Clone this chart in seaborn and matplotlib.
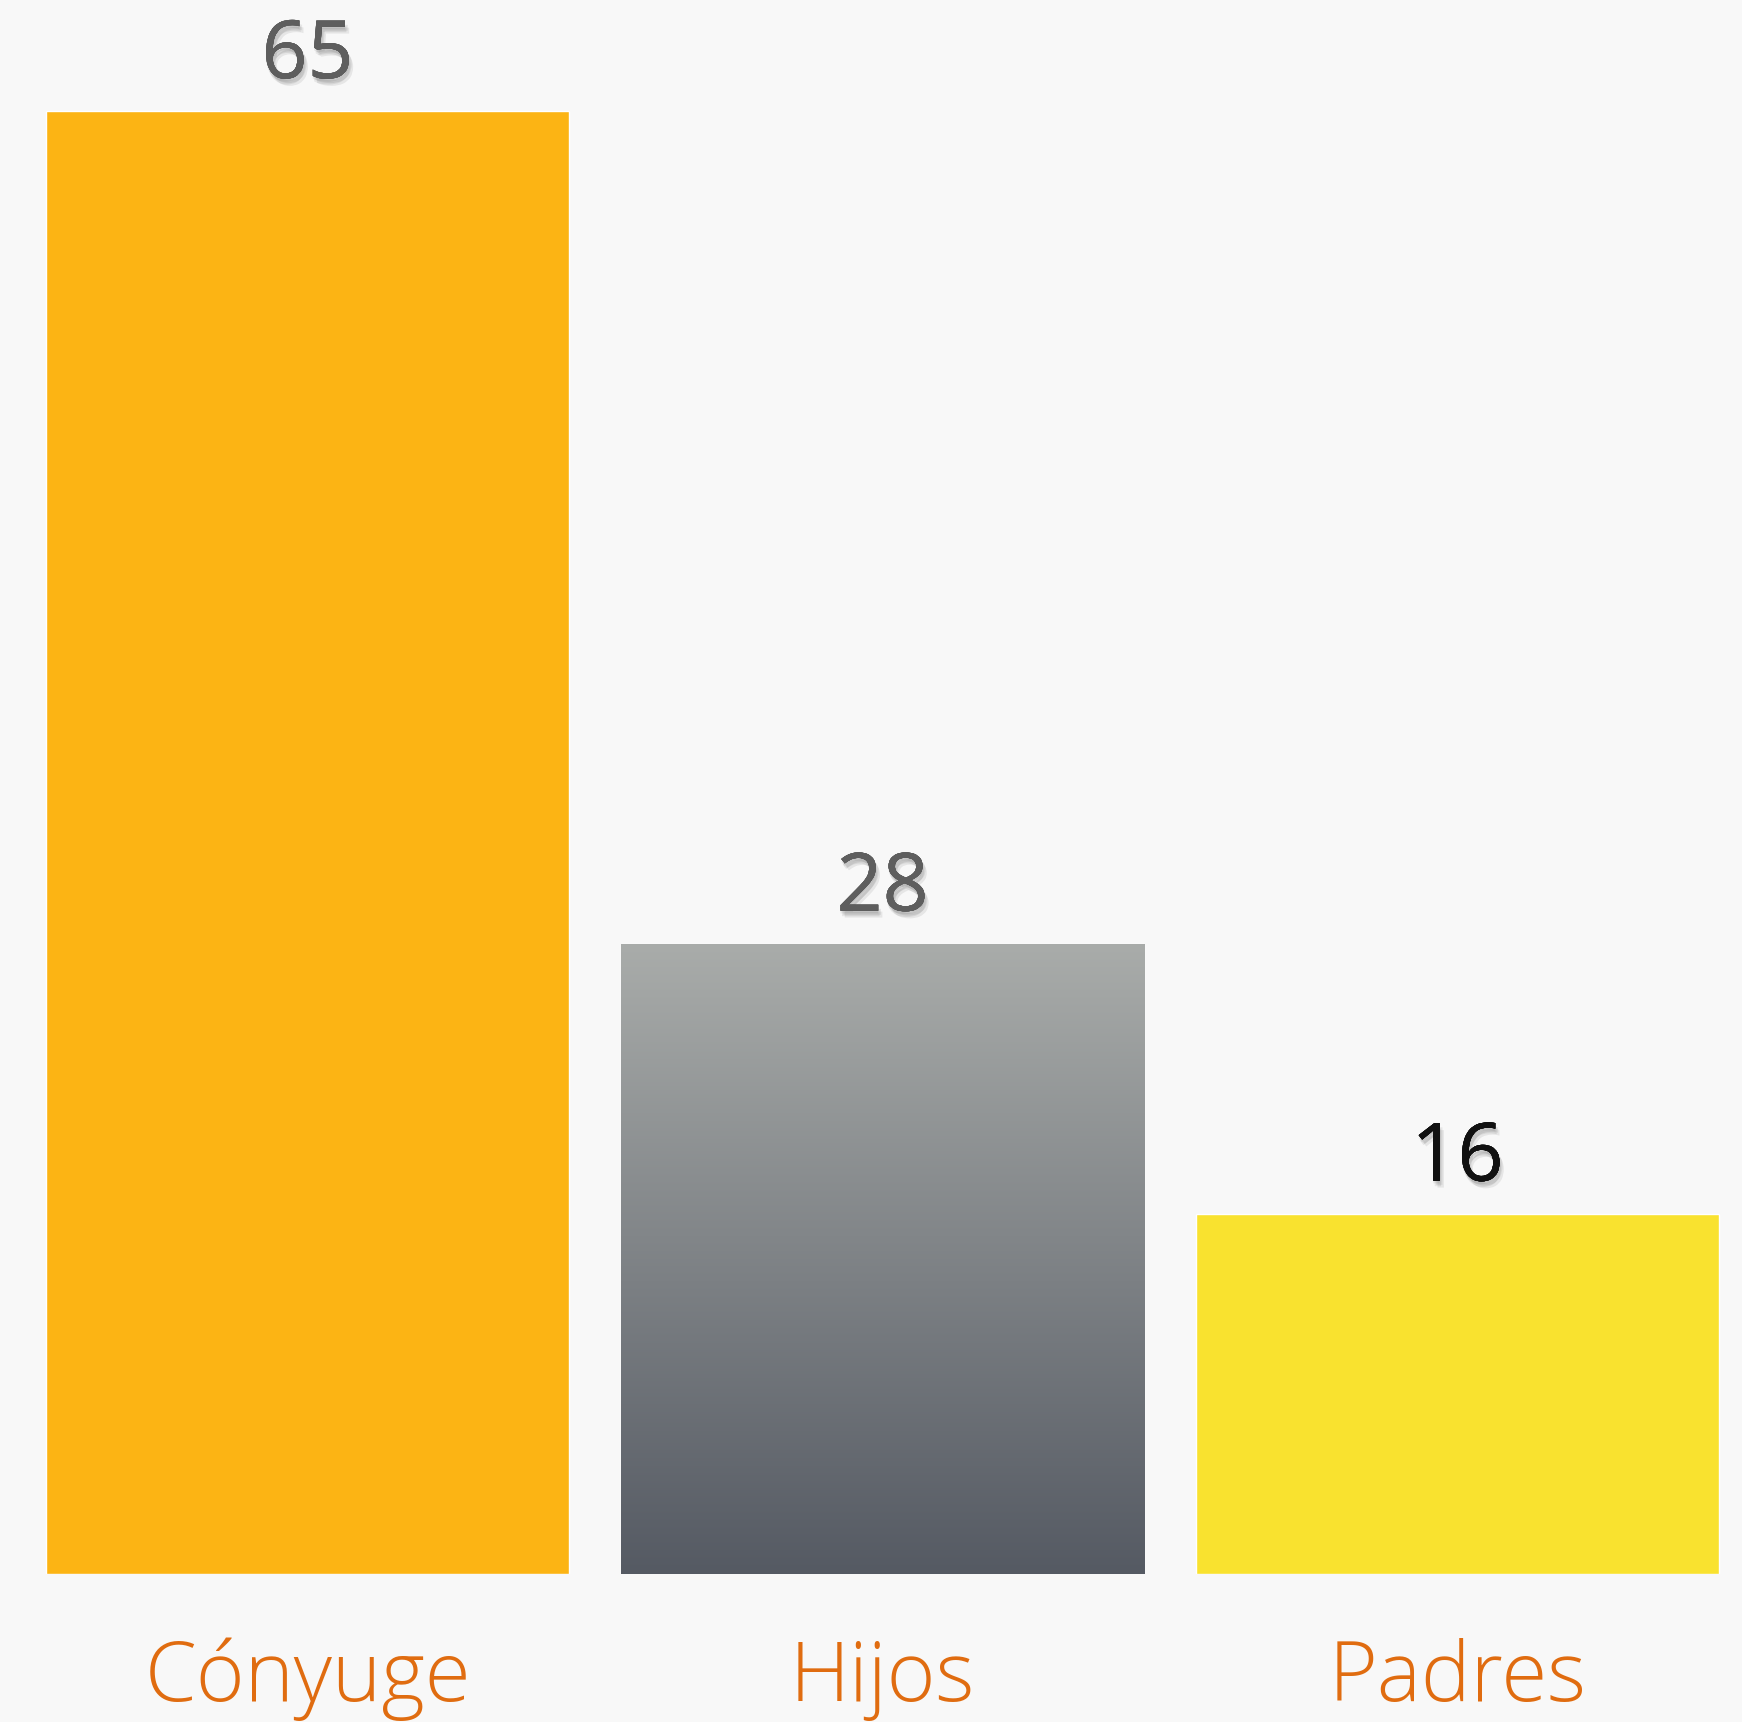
import numpy as np
import pandas as pd
import matplotlib
matplotlib.use("Agg")
import matplotlib.pyplot as plt
import matplotlib.patheffects as pe
import seaborn as sns

categorias = ["Cónyuge", "Hijos", "Padres"]
valores = [65, 28, 16]
colores = ["#FCB414", "#9A9C9C", "#F9E22F"]
colores_etiqueta = ["#5E5E5E", "#5E5E5E", "#111111"]

bg = "#F8F8F8"
sns.set_style("white")
plt.rcParams['font.family'] = ['Open Sans', 'DejaVu Sans']

df = pd.DataFrame({"categoria": categorias, "valor": valores})

fig = plt.figure(figsize=(17.42, 17.22), dpi=100, facecolor=bg)
ax = fig.add_axes([0, 148 / 1722, 1, 1574 / 1722])
ax.set_facecolor(bg)

sns.barplot(data=df, x="categoria", y="valor", hue="categoria",
            palette=colores, width=0.91, saturation=1, legend=False, ax=ax)

ax.set_xlim(-0.535, 2.495)
ax.set_ylim(0, 1574 / 22.5)

# gradient for the middle bar
grad_bar = ax.patches[1]
x0, y0 = grad_bar.get_x(), grad_bar.get_y()
w, h = grad_bar.get_width(), grad_bar.get_height()
grad = np.linspace(0, 1, 256).reshape(-1, 1)
cmap = matplotlib.colors.LinearSegmentedColormap.from_list("g", ["#555A63", "#A9ACAA"])
im = ax.imshow(grad, extent=[x0, x0 + w, y0, y0 + h], origin="lower",
               aspect="auto", cmap=cmap, zorder=3)
im.set_clip_path(grad_bar)

# soft shadow from a few faint layers
sombra = [pe.withSimplePatchShadow(offset=o, shadow_rgbFace="#000000", alpha=0.07)
          for o in [(0, -2), (2, -3), (3, -5), (1, -4)]]
sombra.append(pe.Normal())

for i, v in enumerate(valores):
    ax.annotate(str(v), (i, v), xytext=(0, 24), textcoords="offset points",
                ha="center", va="baseline", fontsize=58, color=colores_etiqueta[i],
                path_effects=sombra)

ax.set_xlabel("")
ax.set_ylabel("")
ax.set_yticks([])
ax.tick_params(axis="x", length=0, pad=46, labelsize=60, labelcolor="#E06C10")
for t in ax.get_xticklabels():
    t.set_fontweight("light")
sns.despine(ax=ax, left=True, bottom=True)

fig.savefig("out.png", dpi=100, facecolor=bg)
